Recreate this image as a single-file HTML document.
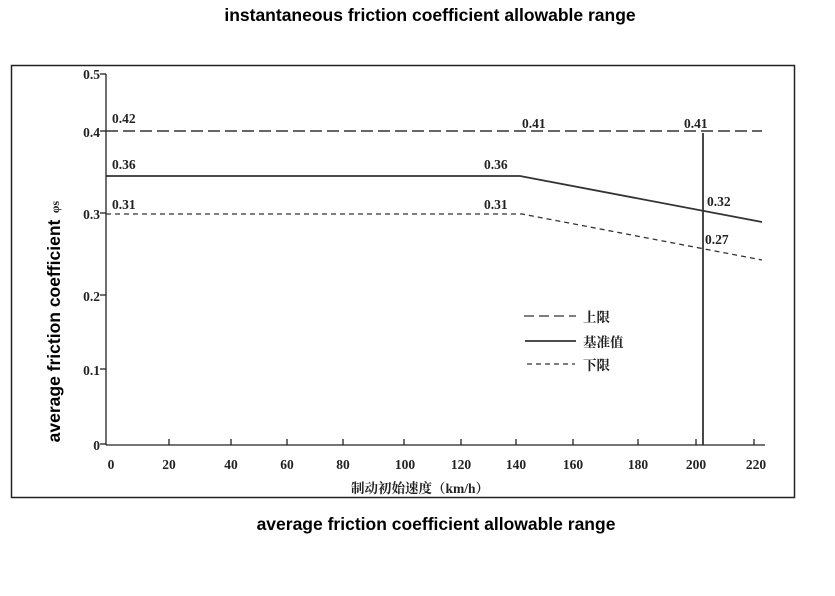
<!DOCTYPE html>
<html><head><meta charset="utf-8"><style>
body{margin:0;background:#fff;width:835px;height:591px;overflow:hidden}
svg text{font-family:"Liberation Serif","Noto Serif CJK SC",serif;font-weight:bold;fill:#222}
.s{font-family:"Liberation Sans",sans-serif!important;font-weight:bold;fill:#000!important}
</style></head><body>
<svg width="835" height="591" viewBox="0 0 835 591">
<text class="s" x="430" y="21" font-size="17.5" text-anchor="middle">instantaneous friction coefficient allowable range</text>
<rect x="11.5" y="65.5" width="783" height="432" fill="none" stroke="#222" stroke-width="1.5"/>
<g stroke="#222" stroke-width="1.3">
<line x1="106" y1="74" x2="106" y2="445"/>
<line x1="106" y1="445" x2="765" y2="445"/>
<line x1="100" y1="74" x2="106" y2="74"/><line x1="100" y1="131" x2="106" y2="131"/>
<line x1="100" y1="213" x2="106" y2="213"/><line x1="100" y1="295" x2="106" y2="295"/>
<line x1="100" y1="369" x2="106" y2="369"/><line x1="100" y1="444" x2="106" y2="444"/>
<line x1="169" y1="445" x2="169" y2="439"/><line x1="231" y1="445" x2="231" y2="439"/>
<line x1="287" y1="445" x2="287" y2="439"/><line x1="343" y1="445" x2="343" y2="439"/>
<line x1="404" y1="445" x2="404" y2="439"/><line x1="461" y1="445" x2="461" y2="439"/>
<line x1="516" y1="445" x2="516" y2="439"/><line x1="573" y1="445" x2="573" y2="439"/>
<line x1="638" y1="445" x2="638" y2="439"/><line x1="696" y1="445" x2="696" y2="439"/>
<line x1="754" y1="445" x2="754" y2="439"/>
</g>
<g font-size="13.5" text-anchor="end">
<text x="100" y="79">0.5</text><text x="100" y="137">0.4</text><text x="100" y="219">0.3</text>
<text x="100" y="301">0.2</text><text x="100" y="375">0.1</text><text x="100" y="450">0</text>
</g>
<g font-size="13.5" text-anchor="middle">
<text x="111" y="469">0</text><text x="169" y="469">20</text><text x="231" y="469">40</text>
<text x="287" y="469">60</text><text x="343" y="469">80</text><text x="405" y="469">100</text>
<text x="461" y="469">120</text><text x="516" y="469">140</text><text x="573" y="469">160</text>
<text x="638" y="469">180</text><text x="696" y="469">200</text><text x="756" y="469">220</text>
</g>
<text x="420" y="493" font-size="13.5" font-weight="normal" text-anchor="middle">制动初始速度（km/h）</text>
<g fill="none" stroke="#333">
<line x1="106" y1="131" x2="762" y2="131" stroke-width="1.5" stroke-dasharray="12,5"/>
<polyline points="106,176 520,176 762,222" stroke-width="1.8"/>
<polyline points="106,214 522,214 762,260" stroke-width="1.3" stroke-dasharray="5,4"/>
<line x1="703" y1="133" x2="703" y2="445" stroke-width="1.8"/>
<line x1="524" y1="316" x2="576" y2="316" stroke-width="1.3" stroke-dasharray="10,5"/>
<line x1="525" y1="341" x2="576" y2="341" stroke-width="1.8"/>
<line x1="527" y1="364" x2="575" y2="364" stroke-width="1.2" stroke-dasharray="5,4"/>
</g>
<g font-size="13.5">
<text x="112" y="123">0.42</text><text x="112" y="169">0.36</text><text x="112" y="209">0.31</text>
<text x="522" y="128">0.41</text><text x="484" y="169">0.36</text><text x="484" y="209">0.31</text>
<text x="684" y="128">0.41</text><text x="707" y="206">0.32</text><text x="705" y="244">0.27</text>
<text x="583" y="322">上限</text><text x="583" y="347">基准值</text><text x="583" y="370">下限</text>
</g>
<text class="s" transform="translate(60,331) rotate(-90)" font-size="17.5" text-anchor="middle">average friction coefficient</text>
<text transform="translate(59,207) rotate(-90)" font-size="12" text-anchor="middle">φs</text>
<text class="s" x="436" y="530" font-size="17.5" text-anchor="middle">average friction coefficient allowable range</text>
</svg>
</body></html>
